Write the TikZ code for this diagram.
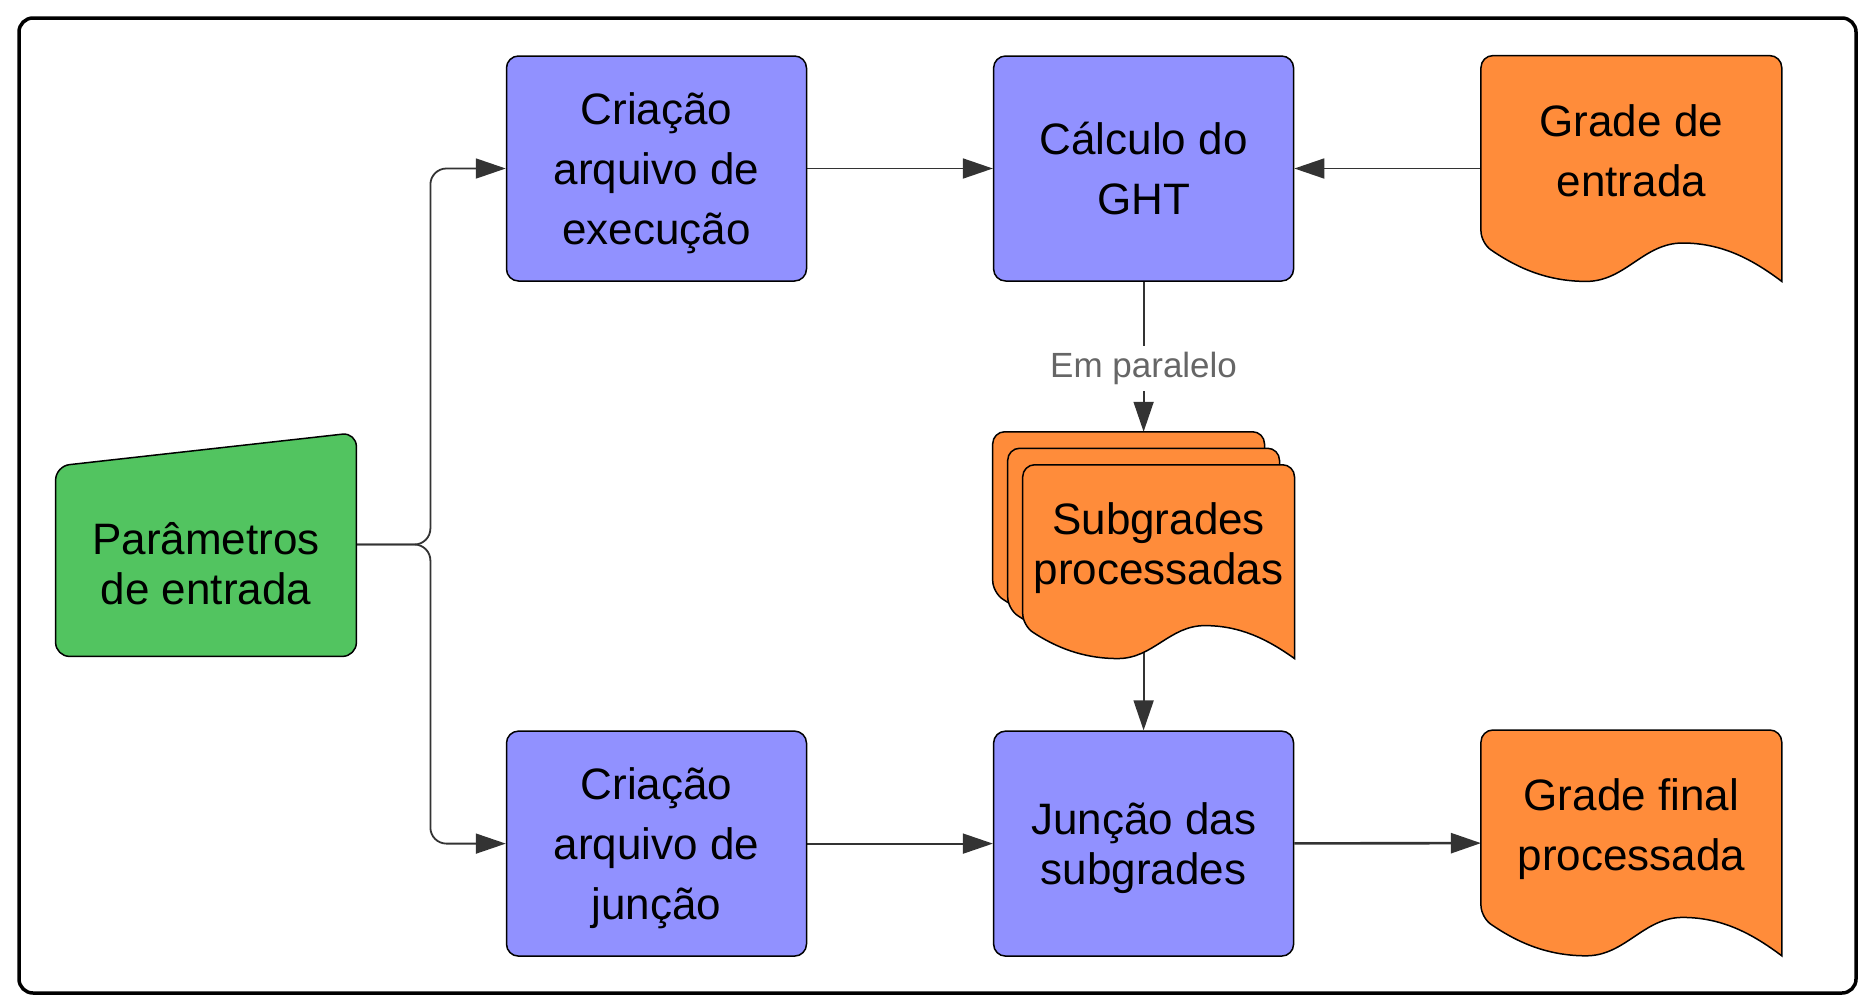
\documentclass[tikz,border=0pt]{standalone}
\usepackage{fontspec}
\setmainfont{Liberation Sans}
\usetikzlibrary{positioning,calc,arrows.meta}

\definecolor{procblue}{RGB}{145,145,255}
\definecolor{docorange}{RGB}{255,140,58}
\definecolor{inputgreen}{RGB}{82,196,96}
\definecolor{linegray}{RGB}{51,51,51}
\definecolor{labelgray}{RGB}{102,102,102}

\pgfdeclarelayer{conns}
\pgfdeclarelayer{sheets}
\pgfsetlayers{conns,sheets,main}

% document sheet with wavy bottom, around node #1, shifted by (#2,#3)
\newcommand{\docshape}[3]{%
  \path[sheet] let \p1=($(#1.north west)+(#2,#3)$), \p2=($(#1.south east)+(#2,#3)$),
    \n1={\x2-\x1}, \n2={\y1-\y2} in
    (\x1,{\y2+0.17*\n2})
    .. controls ({\x1+0.12*\n1},{\y2+0.06*\n2}) and ({\x1+0.22*\n1},\y2) .. ({\x1+0.35*\n1},\y2)
    .. controls ({\x1+0.48*\n1},\y2) and ({\x1+0.54*\n1},{\y2+0.17*\n2}) .. ({\x1+0.67*\n1},{\y2+0.17*\n2})
    .. controls ({\x1+0.8*\n1},{\y2+0.17*\n2}) and ({\x1+0.9*\n1},{\y2+0.1*\n2}) .. (\x2,\y2)
    [rounded corners=6pt] -- (\x2,\y1) -- (\x1,\y1) -- cycle;}

\begin{document}
\begin{tikzpicture}[x=0.5pt, y=-0.5pt,
    proc/.style={draw=black, fill=procblue, line width=0.75pt, rounded corners=6pt,
      minimum width=150pt, minimum height=112.5pt, inner sep=0pt, align=center,
      font=\fontsize{22}{30}\selectfont, text depth=0pt},
    tight/.style={font=\fontsize{22}{25}\selectfont},
    doc/.style={minimum width=150pt, minimum height=112.5pt, inner sep=0pt, align=center,
      font=\fontsize{22}{30}\selectfont, text depth=18pt},
    param/.style={minimum width=150pt, minimum height=111.5pt, inner sep=0pt, align=center,
      font=\fontsize{22}{25}\selectfont, text height=60pt, text depth=0pt},
    sheet/.style={draw=black, fill=docorange, line width=0.75pt},
    inputfill/.style={draw=black, fill=inputgreen, line width=0.75pt},
    conn/.style={draw=linegray, line width=0.9pt, -{Triangle[length=15pt, width=10pt]}},
    lbl/.style={fill=white, text=labelgray, inner sep=3pt, font=\fontsize{17.5}{19}\selectfont},
    frame/.style={draw=black, line width=1.75pt, rounded corners=7pt}]

  \useasboundingbox (0,0) rectangle (1869,1007);
  \draw[frame] (19,18) rectangle (1856,993);

  \node[proc] (exec) at (656.5,168.5) {Criação\\arquivo de\\execução};
  \node[proc, right=92.8pt of exec] (calc) {Cálculo do\\GHT};
  \node[doc, right=93.3pt of calc] (grade) {Grade de\\entrada};
  \node[proc, below=224.3pt of exec] (juncarq) {Criação\\arquivo de\\junção};
  \node[proc, tight, below=224.3pt of calc] (junc) {Junção das\\subgrades};
  \node[doc, below=224.3pt of grade] (final) {Grade final\\processada};
  \node[param] (param) at (206,544.5) {Parâmetros\\de entrada};
  \node[doc, tight, minimum width=135.5pt, minimum height=96.5pt,
    below=91.5pt of calc, xshift=7.5pt] (subg) {Subgrades\\processadas};
  \coordinate (backtop) at ($(subg.north)+(0pt,16.5pt)$);

  \begin{pgfonlayer}{sheets}
    \docshape{subg}{-15pt}{16.5pt}
    \docshape{subg}{-7.5pt}{8.25pt}
    \docshape{subg}{0pt}{0pt}
    \docshape{grade}{0pt}{0pt}
    \docshape{final}{0pt}{0pt}
    \path[inputfill] let \p1=(param.north west), \p2=(param.south east), \n2={\y1-\y2} in
      [rounded corners=7pt] (\x1,{\y1-0.15*\n2}) -- (\x2,\y1) -- (\x2,\y2) -- (\x1,\y2) -- cycle;
  \end{pgfonlayer}

  \begin{pgfonlayer}{conns}
    \draw[conn, rounded corners=8pt] (param.east) -- ++(37pt,0pt) |- (exec.west);
    \draw[conn, rounded corners=8pt] (param.east) -- ++(37pt,0pt) |- (juncarq.west);
    \draw[conn] (exec) -- (calc);
    \draw[conn] (grade) -- (calc);
    \draw[conn] (calc) -- node[lbl, pos=0.58] {Em paralelo} (calc.south |- backtop);
    \draw[conn] (subg.center -| junc.north) -- (junc.north);
    \draw[conn] (juncarq) -- (junc);
    \draw[conn, line width=1.3pt] (junc) -- (final);
  \end{pgfonlayer}
\end{tikzpicture}
\end{document}
